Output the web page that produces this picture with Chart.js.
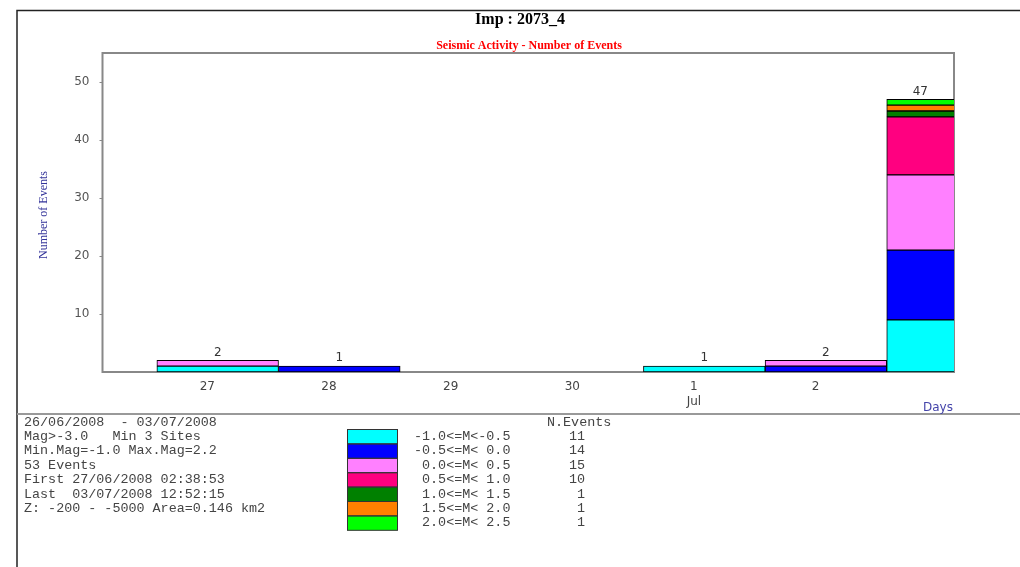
<!DOCTYPE html>
<html>
<head>
<meta charset="utf-8">
<script src="https://cdn.jsdelivr.net/npm/chart.js@4.4.0/dist/chart.umd.min.js"></script>
<style>
    html, body { margin: 0; padding: 0; background: #fff; }
    #wrap { width: 1020px; height: 567px; position: relative; }
</style>
</head>
<body>
<div id="wrap"><canvas id="seismicChart"></canvas></div>
<script>
// days shown on the x axis (bars are indexed 0..6, the last day has no label)
const dayIndex = [0, 1, 2, 3, 4, 5, 6];
const dayLabels = ['27', '28', '29', '30', ['1', 'Jul'], '2'];
const yTicks = [10, 20, 30, 40, 50];

// magnitude classes
const magClasses = ['-1.0<=M<-0.5', '-0.5<=M< 0.0', ' 0.0<=M< 0.5', ' 0.5<=M< 1.0', ' 1.0<=M< 1.5', ' 1.5<=M< 2.0', ' 2.0<=M< 2.5'];
const magColors = ['#00FFFF', '#0000FF', '#FF80FF', '#FF0080', '#008000', '#FF8000', '#00FF00'];
const magTotals = [11, 14, 15, 10, 1, 1, 1];

// events per day for each class
const evM10 = [1, 0, 0, 0, 1, 0, 9];
const evM05 = [0, 1, 0, 0, 0, 1, 12];
const evP00 = [1, 0, 0, 0, 0, 1, 13];
const evP05 = [0, 0, 0, 0, 0, 0, 10];
const evP10 = [0, 0, 0, 0, 0, 0, 1];
const evP15 = [0, 0, 0, 0, 0, 0, 1];
const evP20 = [0, 0, 0, 0, 0, 0, 1];
const classSeries = [evM10, evM05, evP00, evP05, evP10, evP15, evP20];

const infoLines = [
    '26/06/2008  - 03/07/2008',
    'Mag>-3.0   Min 3 Sites',
    'Min.Mag=-1.0 Max.Mag=2.2',
    '53 Events',
    'First 27/06/2008 02:38:53',
    'Last  03/07/2008 12:52:15',
    'Z: -200 - -5000 Area=0.146 km2'
];

const LABEL_SHIFT = -0.085; // tick labels sit a little left of the bar centres

const datasets = classSeries.map((series, i) => ({
    label: magClasses[i],
    data: series.map((v, d) => ({ x: dayIndex[d], y: v === 0 ? null : v })),
    backgroundColor: magColors[i],
    borderColor: '#000',
    borderWidth: 1,
    borderSkipped: false,
    barPercentage: 1,
    categoryPercentage: 1
}));

const extras = {
    id: 'extras',
    beforeDatasetsDraw(chart) {
        const { ctx, chartArea: a } = chart;
        ctx.save();
        ctx.strokeStyle = '#888';
        ctx.lineWidth = 2;
        ctx.strokeRect(a.left, a.top, a.right - a.left, a.bottom - a.top);
        ctx.restore();
    },
    afterDraw(chart) {
        const { ctx, chartArea: a, scales } = chart;
        ctx.save();

        // page frame
        ctx.strokeStyle = '#222';
        ctx.lineWidth = 1.5;
        ctx.beginPath();
        ctx.moveTo(17, 567); ctx.lineTo(17, 10.5); ctx.lineTo(1020, 10.5);
        ctx.stroke();
        ctx.strokeStyle = '#999';
        ctx.lineWidth = 2;
        ctx.beginPath();
        ctx.moveTo(17, 414); ctx.lineTo(1020, 414);
        ctx.stroke();

        // titles
        ctx.textAlign = 'center';
        ctx.textBaseline = 'middle';
        ctx.fillStyle = '#000';
        ctx.font = 'bold 16px "Liberation Serif"';
        ctx.fillText('Imp : 2073_4', 520, 20);
        ctx.fillStyle = '#FF0000';
        ctx.font = 'bold 12px "Liberation Serif"';
        ctx.fillText('Seismic Activity - Number of Events', 529, 46);

        // axis titles
        ctx.fillStyle = '#333399';
        ctx.font = '12px "Liberation Serif"';
        ctx.save();
        ctx.translate(44, 215);
        ctx.rotate(-Math.PI / 2);
        ctx.fillText('Number of Events', 0, 0);
        ctx.restore();
        ctx.font = '12px "DejaVu Sans"';
        ctx.fillStyle = '#4444AA';
        ctx.fillText('Days', 938, 408);

        // totals above bars, centred on the visible part of each bar
        const bars = chart.getDatasetMeta(0).data;
        ctx.fillStyle = '#333';
        ctx.font = '12px "DejaVu Sans"';
        dayIndex.forEach((d, i) => {
            const total = classSeries.reduce((s, arr) => s + arr[i], 0);
            if (total > 0) {
                const cx = scales.x.getPixelForValue(d);
                const half = bars[i].width / 2;
                const x = (Math.max(a.left, cx - half) + Math.min(a.right, cx + half)) / 2;
                ctx.fillText(String(total), x, scales.y.getPixelForValue(total) - 8);
            }
        });

        // info panel
        ctx.textAlign = 'left';
        ctx.fillStyle = '#444';
        ctx.font = '13.4px "Liberation Mono"';
        infoLines.forEach((t, i) => ctx.fillText(t, 24, 422 + i * 14.4));
        ctx.fillText('N.Events', 547, 422);
        magClasses.forEach((c, i) => {
            const y = 436.5 + i * 14.4;
            ctx.fillStyle = magColors[i];
            ctx.fillRect(347, y - 7, 50, 14.4);
        });
        ctx.strokeStyle = '#333';
        ctx.lineWidth = 1;
        magClasses.forEach((c, i) => {
            const y = 436.5 + i * 14.4;
            ctx.strokeRect(347.5, y - 7, 50, 14.4);
            ctx.fillStyle = '#444';
            ctx.textAlign = 'left';
            ctx.fillText(c, 414, y);
            ctx.textAlign = 'right';
            ctx.fillText(String(magTotals[i]), 585, y);
        });
        ctx.restore();
    }
};

new Chart(document.querySelector('#seismicChart'), {
    type: 'bar',
    data: { datasets: datasets },
    options: {
        responsive: true,
        maintainAspectRatio: false,
        animation: false,
        layout: { padding: { left: 17, top: 53, right: 66, bottom: 0 } },
        plugins: { legend: { display: false }, title: { display: false }, tooltip: { enabled: false } },
        scales: {
            x: {
                type: 'linear',
                stacked: true,
                offset: false,
                min: -0.947,
                max: 6.053,
                afterFit: (axis) => { axis.height = 195; },
                afterBuildTicks: (axis) => {
                    axis.ticks = dayLabels.map((l, i) => ({ value: dayIndex[i] + LABEL_SHIFT }));
                },
                grid: { display: false, drawTicks: false },
                border: { display: false },
                ticks: {
                    autoSkip: false,
                    maxRotation: 0,
                    padding: 7,
                    color: '#444',
                    font: { family: 'DejaVu Sans', size: 12, lineHeight: 1.25 },
                    callback: (v, i) => dayLabels[i]
                }
            },
            y: {
                stacked: true,
                min: 0,
                max: 55,
                afterFit: (axis) => { axis.width = 85.5; },
                afterBuildTicks: (axis) => {
                    axis.ticks = yTicks.map(v => ({ value: v }));
                },
                grid: { drawOnChartArea: false, drawTicks: true, tickLength: 3, color: '#888' },
                border: { display: false },
                ticks: {
                    padding: 10,
                    color: '#555',
                    font: { family: 'DejaVu Sans', size: 12 }
                }
            }
        }
    },
    plugins: [extras]
});
</script>
</body>
</html>
